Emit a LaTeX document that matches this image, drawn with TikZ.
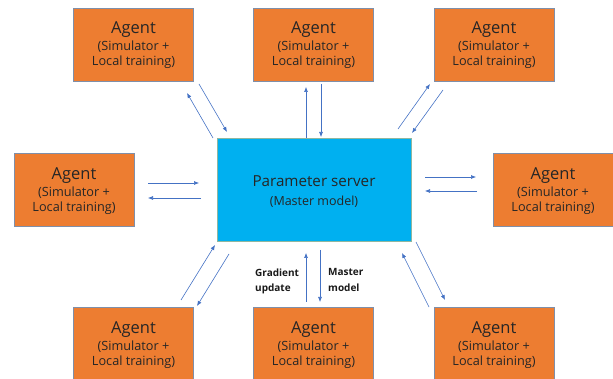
\documentclass[tikz,border=0pt]{standalone}
\usepackage{fontspec}
\setmainfont{Open Sans}
\usetikzlibrary{arrows.meta}
\definecolor{agorange}{HTML}{ED7D31}
\definecolor{agborder}{HTML}{7F8FA9}
\definecolor{srvblue}{HTML}{00B0F0}
\definecolor{srvborder}{HTML}{8FB7A0}
\definecolor{arr}{HTML}{4472C4}
\tikzset{
  agent/.style={draw=agborder, line width=0.8pt, fill=agorange, minimum width=120pt, minimum height=73pt, inner sep=0pt},
  server/.style={draw=srvborder, line width=0.8pt, fill=srvblue, minimum width=194pt, minimum height=103pt, inner sep=0pt},
  agtitle/.style={anchor=base, inner sep=0pt, font=\fontsize{16.5}{18}\selectfont, text=black!85},
  agsub/.style={anchor=base, inner sep=0pt, font=\fontsize{12.7}{14}\selectfont, text=black!85},
  lbl/.style={anchor=base west, inner sep=0pt, font=\bfseries\fontsize{10}{11}\selectfont, text=black!90},
  flow/.style={draw=arr, line width=0.6pt, -{Latex[length=5pt,width=4pt]}}
}
\newcommand\agentbox[3]{%
  \node[agent] (#1) at (#2,#3) {};
  \node[agtitle] (#1t) at (#2,#3-10.5) {Agent};
  \node[agsub] (#1s) at (#2,#3+6.5) {(Simulator +};
  \node[agsub] (#1l) at (#2,#3+21.5) {Local training)};
}
\begin{document}
\begin{tikzpicture}[x=1pt,y=-1pt]
\useasboundingbox (0,0) rectangle (613,379);
\begin{scope}
\clip (0,0) rectangle (613,379);
\agentbox{tl}{133.5}{44.5}
\agentbox{tm}{313.5}{44.5}
\agentbox{tr}{494}{44.5}
\agentbox{ml}{74}{190}
\agentbox{mr}{553}{190}
\agentbox{bl}{133.5}{344}
\agentbox{bm}{313.5}{344}
\agentbox{br}{494}{344}
\end{scope}
\node[server] (ps) at (314,189.5) {};
\node[anchor=base, inner sep=0pt, font=\fontsize{15.2}{17}\selectfont, text=black!85] (pst) at (314,187) {Parameter server};
\node[anchor=base, inner sep=0pt, font=\fontsize{12.5}{14}\selectfont, text=black!85] (pss) at (314,206) {(Master model)};
% top-left
\coordinate (a1s) at (213,138); \coordinate (a1e) at (187,93);
\coordinate (a2s) at (199,84);  \coordinate (a2e) at (227,132);
% top-middle
\coordinate (b1s) at (306,138); \coordinate (b1e) at (306,87);
\coordinate (b2s) at (321,84);  \coordinate (b2e) at (321,137);
% top-right
\coordinate (c1s) at (398,129); \coordinate (c1e) at (430,84);
\coordinate (c2s) at (443,90);  \coordinate (c2e) at (412,133);
% middle-left
\coordinate (d1s) at (148,183); \coordinate (d1e) at (199,183);
\coordinate (d2s) at (201,198); \coordinate (d2e) at (148,198);
% middle-right
\coordinate (e1s) at (425,177); \coordinate (e1e) at (476,177);
\coordinate (e2s) at (477,191); \coordinate (e2e) at (425,191);
% bottom-left
\coordinate (f1s) at (181,300); \coordinate (f1e) at (215,245);
\coordinate (f2s) at (229,254); \coordinate (f2e) at (197,306);
% bottom-middle
\coordinate (g1s) at (306,302); \coordinate (g1e) at (306,253);
\coordinate (g2s) at (320,250); \coordinate (g2e) at (320,302);
% bottom-right
\coordinate (h1s) at (429,307); \coordinate (h1e) at (402,253);
\coordinate (h2s) at (416,242); \coordinate (h2e) at (445,300);
\foreach \p in {a,b,c,d,e,f,g,h}{
  \draw[flow] (\p1s) -- (\p1e);
  \draw[flow] (\p2s) -- (\p2e);
}
\node[lbl] (gu1) at (255,277) {Gradient};
\node[lbl] (gu2) at (255,292) {update};
\node[lbl] (mm1) at (328,276) {Master};
\node[lbl] (mm2) at (328,291) {model};
\end{tikzpicture}
\end{document}
